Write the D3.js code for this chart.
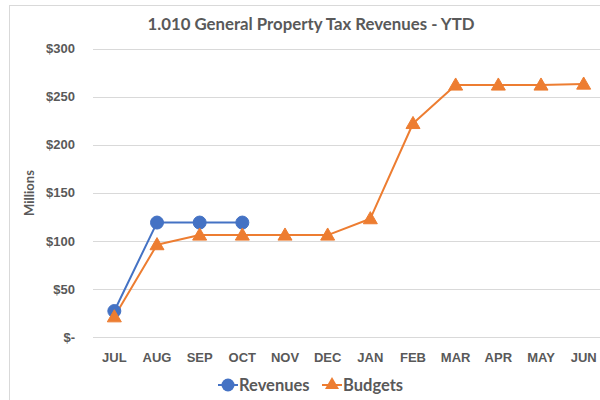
<!DOCTYPE html>
<html>
<head>
<meta charset="utf-8">
<script src="https://cdn.jsdelivr.net/npm/d3@7"></script>
<style>
  html, body { margin: 0; padding: 0; background: #fff; }
  svg { display: block; font-family: Lato, "Open Sans", sans-serif; }
</style>
</head>
<body>
<svg id="chart" width="600" height="400"></svg>
<script>
const months = ["JUL","AUG","SEP","OCT","NOV","DEC","JAN","FEB","MAR","APR","MAY","JUN"];
const revenues = [27, 119, 119, 119, null, null, null, null, null, null, null, null];
const budgets = [21, 96, 106, 106, 106, 106, 123, 222, 262, 262, 262, 263];
const yTicks = [0, 50, 100, 150, 200, 250, 300];
const yTickLabels = ["$-", "$50", "$100", "$150", "$200", "$250", "$300"];
const seriesNames = ["Revenues", "Budgets"];

const svg = d3.select("#chart");
const blue = "#4472C4", orange = "#ED7D31", textCol = "#595959", grid = "#D9D9D9";

// chart border
svg.append("rect").attr("x", 9.5).attr("y", 5.5).attr("width", 620).attr("height", 420)
  .attr("fill", "none").attr("stroke", grid).attr("stroke-width", 1);

const plotL = 93, plotR = 605, plotT = 48.5, plotB = 337;
const x = d3.scaleBand().domain(months).range([plotL, plotR]);
const y = d3.scaleLinear().domain([0, 300]).range([plotB, plotT]);

// gridlines
svg.append("g").selectAll("line").data(yTicks).join("line")
  .attr("x1", plotL).attr("x2", plotR)
  .attr("y1", d => Math.round(y(d)) + 0.5).attr("y2", d => Math.round(y(d)) + 0.5)
  .attr("stroke", grid).attr("stroke-width", 1);

// y axis labels
const yAxis = d3.axisLeft(y).tickValues(yTicks).tickSize(0).tickPadding(0)
  .tickFormat((d, i) => yTickLabels[i]);
const gy = svg.append("g").attr("transform", `translate(75,0)`).call(yAxis);
gy.select(".domain").remove();
gy.selectAll("text").attr("fill", textCol).attr("font-size", 13).attr("font-weight", "bold");

// x axis labels
const xAxis = d3.axisBottom(x).tickSize(0).tickPadding(0);
const gx = svg.append("g").attr("transform", `translate(0,${plotB + 16})`).call(xAxis);
gx.select(".domain").remove();
gx.selectAll("text").attr("fill", textCol).attr("font-size", 13).attr("font-weight", "bold");

const cx = d => x(d) + x.bandwidth() / 2;

// budgets line
const lineB = d3.line().x((d, i) => cx(months[i])).y(d => y(d));
svg.append("path").datum(budgets).attr("d", lineB)
  .attr("fill", "none").attr("stroke", orange).attr("stroke-width", 2).attr("stroke-linejoin", "round");

// revenues line
const revPts = revenues.map((v, i) => ({m: months[i], v})).filter(d => d.v != null);
const lineR = d3.line().x(d => cx(d.m)).y(d => y(d.v));
svg.append("path").datum(revPts).attr("d", lineR)
  .attr("fill", "none").attr("stroke", blue).attr("stroke-width", 2).attr("stroke-linejoin", "round");

// revenue markers
svg.append("g").selectAll("circle").data(revPts).join("circle")
  .attr("cx", d => cx(d.m)).attr("cy", d => y(d.v)).attr("r", 6.5)
  .attr("fill", blue).attr("stroke", blue);

// budget markers (triangles)
const tri = d3.symbol().type(d3.symbolTriangle).size(85);
svg.append("g").selectAll("path").data(budgets).join("path")
  .attr("d", tri)
  .attr("transform", (d, i) => `translate(${cx(months[i])},${y(d) + 1})`)
  .attr("fill", orange).attr("stroke", orange);

// title
svg.append("text").attr("x", 311).attr("y", 30).attr("text-anchor", "middle")
  .attr("fill", textCol).attr("font-size", 16.8).attr("font-weight", "bold")
  .text("1.010 General Property Tax Revenues - YTD");

// y axis title
svg.append("text").attr("transform", `translate(34,193) rotate(-90)`).attr("text-anchor", "middle")
  .attr("fill", textCol).attr("font-size", 13).attr("font-weight", "bold")
  .text("Millions");

// legend
const ly = 385;
const lg = svg.append("g");
lg.append("line").attr("x1", 218).attr("x2", 238).attr("y1", ly).attr("y2", ly)
  .attr("stroke", blue).attr("stroke-width", 2);
lg.append("circle").attr("cx", 228).attr("cy", ly).attr("r", 6.5).attr("fill", blue);
lg.append("text").attr("x", 239).attr("y", ly + 6).attr("fill", textCol)
  .attr("font-size", 16.5).attr("font-weight", "bold").text(seriesNames[0]);
lg.append("line").attr("x1", 322).attr("x2", 342).attr("y1", ly).attr("y2", ly)
  .attr("stroke", orange).attr("stroke-width", 2);
lg.append("path").attr("d", tri).attr("transform", `translate(332,${ly})`).attr("fill", orange);
lg.append("text").attr("x", 343).attr("y", ly + 6).attr("fill", textCol)
  .attr("font-size", 16.5).attr("font-weight", "bold").text(seriesNames[1]);
</script>
</body>
</html>
